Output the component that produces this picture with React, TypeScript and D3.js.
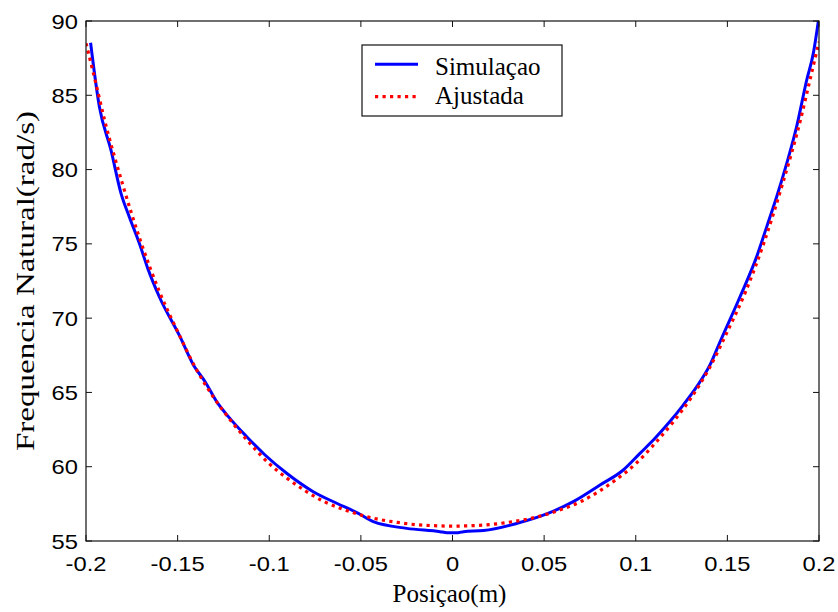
import React from "react";
import * as d3 from "d3";

// Simulation (blue solid)
const simX = [-0.1975, -0.1927, -0.1864, -0.1809, -0.1764, -0.1709, -0.1663, -0.16, -0.1487, -0.1414, -0.135, -0.1287, -0.1223, -0.1123, -0.1023, -0.0905, -0.076, -0.0632, -0.0514, -0.0432, -0.025, -0.0068, -0.003, 0.003, 0.006, 0.017, 0.0353, 0.0514, 0.0659, 0.0805, 0.0932, 0.1023, 0.1105, 0.1178, 0.1259, 0.1333, 0.1405, 0.146, 0.1569, 0.166, 0.1715, 0.1769, 0.1824, 0.1878, 0.1933, 0.1969, 0.2];
const simY = [88.54, 84.23, 81.32, 78.4, 76.83, 75.04, 73.35, 71.44, 68.75, 66.85, 65.72, 64.38, 63.37, 62.02, 60.79, 59.56, 58.32, 57.54, 56.86, 56.3, 55.85, 55.63, 55.56, 55.56, 55.63, 55.7, 56.19, 56.82, 57.65, 58.77, 59.78, 60.9, 61.91, 62.92, 64.15, 65.39, 66.85, 68.41, 71.44, 74.14, 76.16, 78.17, 80.42, 82.89, 86.03, 87.82, 90.3];

// Fitted (red dotted)
const fitX = [-0.2, -0.195, -0.19, -0.18, -0.17, -0.16, -0.15, -0.14, -0.13, -0.12, -0.11, -0.1, -0.09, -0.08, -0.07, -0.06, -0.05, -0.04, -0.03, -0.02, -0.01, 0, 0.01, 0.02, 0.03, 0.04, 0.05, 0.06, 0.07, 0.08, 0.09, 0.1, 0.11, 0.12, 0.13, 0.14, 0.15, 0.16, 0.17, 0.18, 0.19, 0.195, 0.2];
const fitY = [88.5, 86.0, 83.4, 79.0, 75.1, 71.8, 69.1, 66.6, 64.6, 62.95, 61.5, 60.2, 59.2, 58.35, 57.65, 57.15, 56.75, 56.45, 56.25, 56.1, 56.03, 56.0, 56.03, 56.1, 56.25, 56.45, 56.75, 57.15, 57.65, 58.35, 59.2, 60.2, 61.5, 62.95, 64.6, 66.6, 69.1, 71.8, 75.1, 79.0, 83.4, 86.0, 88.6];

const xTicks = [-0.2, -0.15, -0.1, -0.05, 0, 0.05, 0.1, 0.15, 0.2];
const xTickLabels = ["-0.2", "-0.15", "-0.1", "-0.05", "0", "0.05", "0.1", "0.15", "0.2"];
const yTicks = [55, 60, 65, 70, 75, 80, 85, 90];
const yTickLabels = ["55", "60", "65", "70", "75", "80", "85", "90"];

const seriesNames = ["Simulaçao", "Ajustada"];
const xTitle = "Posiçao(m)";
const yTitle = "Frequencia Natural(rad/s)";

export default function App() {
  const L = 86, R = 819, T = 21, B = 541;
  const x = d3.scaleLinear().domain([-0.2, 0.2]).range([L, R]);
  const y = d3.scaleLinear().domain([55, 90]).range([B, T]);
  const sim = simX.map((v, i) => [v, simY[i]] as [number, number]);
  const fit = fitX.map((v, i) => [v, fitY[i]] as [number, number]);
  const line = d3.line<[number, number]>().x(d => x(d[0])).y(d => y(d[1])).curve(d3.curveMonotoneX);
  const sansFont = "'Liberation Sans', Arial, sans-serif";
  const serifFont = "'Liberation Serif', 'Times New Roman', serif";
  const tl = 6;
  return (
    <svg width={838} height={612} style={{ position: "absolute", left: 0, top: 0, background: "#fff" }}>
      <defs>
        <clipPath id="plotclip">
          <rect x={L} y={T} width={R - L} height={B - T} />
        </clipPath>
      </defs>
      <rect x={0} y={0} width={838} height={612} fill="#fff" />
      {/* curves */}
      <g clipPath="url(#plotclip)">
        <path d={line(sim) || ""} fill="none" stroke="#0000ff" strokeWidth={3} strokeLinejoin="round" />
        <path d={line(fit) || ""} fill="none" stroke="#ff0000" strokeWidth={3.2} strokeDasharray="3.2 4.3" />
      </g>
      {/* box */}
      <rect x={L} y={T} width={R - L} height={B - T} fill="none" stroke="#111" strokeWidth={1.2} />
      {/* ticks */}
      {xTicks.map((t, i) => (
        <g key={"xt" + i}>
          <line x1={x(t)} x2={x(t)} y1={B} y2={B - tl} stroke="#111" strokeWidth={1} />
          <line x1={x(t)} x2={x(t)} y1={T} y2={T + tl} stroke="#111" strokeWidth={1} />
          <text transform={`translate(${x(t)},${570.5}) scale(1.13,1)`} textAnchor="middle" fontFamily={sansFont} fontSize={21} fill="#000">
            {xTickLabels[i]}
          </text>
        </g>
      ))}
      {yTicks.map((t, i) => (
        <g key={"yt" + i}>
          <line x1={L} x2={L + tl} y1={y(t)} y2={y(t)} stroke="#111" strokeWidth={1} />
          <line x1={R} x2={R - tl} y1={y(t)} y2={y(t)} stroke="#111" strokeWidth={1} />
          <text transform={`translate(${78},${y(t) + 7.5}) scale(1.13,1)`} textAnchor="end" fontFamily={sansFont} fontSize={21} fill="#000">
            {yTickLabels[i]}
          </text>
        </g>
      ))}
      {/* axis titles */}
      <text x={(L + R) / 2 - 3} y={601.5} textAnchor="middle" fontFamily={serifFont} fontSize={25} fill="#000">{xTitle}</text>
      <text transform={`translate(34,${(T + B) / 2}) rotate(-90) scale(1.27,1)`} textAnchor="middle" fontFamily={serifFont} fontSize={26} fill="#000">{yTitle}</text>
      {/* legend */}
      <rect x={362} y={45} width={200} height={71} fill="#fff" stroke="#111" strokeWidth={1.2} />
      <line x1={375} x2={418} y1={64.3} y2={64.3} stroke="#0000ff" strokeWidth={3} />
      <line x1={375} x2={418} y1={96.7} y2={96.7} stroke="#ff0000" strokeWidth={3.2} strokeDasharray="3.2 4.3" />
      <text x={435} y={74.5} fontFamily={serifFont} fontSize={25} fill="#000">{seriesNames[0]}</text>
      <text x={435} y={103.5} fontFamily={serifFont} fontSize={25} fill="#000">{seriesNames[1]}</text>
    </svg>
  );
}
